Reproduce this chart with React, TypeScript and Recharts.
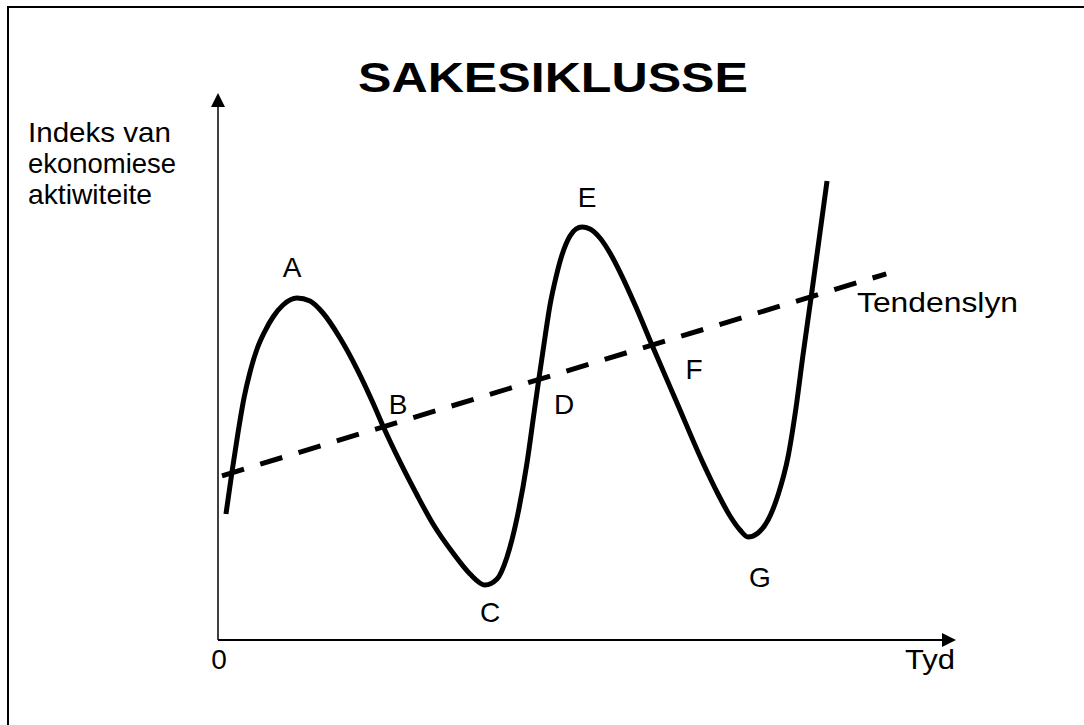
import React from 'react';
import { ComposedChart, Line, XAxis, YAxis, Customized } from 'recharts';

// Time axis (arbitrary units, 0-100)
const timePoints = [
  1.10, 1.93, 2.76, 3.59, 4.42, 5.39, 6.49, 7.60, 8.98, 10.91,
  12.71, 14.50, 16.85, 19.20, 21.41, 22.79, 25.14, 27.49, 29.70, 32.46, 34.81, 36.88,
  38.54, 39.92, 41.30, 42.68, 43.65, 44.34, 45.17, 45.86, 46.69, 47.51, 48.62, 49.45, 50.28,
  51.38, 52.76, 54.14, 55.52, 57.73, 59.94, 63.40, 66.99, 69.06, 70.72, 72.10, 73.20,
  74.59, 75.97, 77.35, 78.73, 79.83, 80.80, 81.91, 83.01, 84.12,
];
// Index of economic activity (0-100) at those times
const activityIndex = [
  23.64, 31.52, 38.84, 45.40, 50.28, 54.60, 57.97, 60.60, 62.85, 64.17,
  63.60, 61.35, 56.66, 50.84, 44.47, 40.15, 33.40, 27.20, 21.76, 16.32, 12.38, 10.32,
  11.44, 15.57, 22.89, 33.21, 42.59, 49.16, 56.85, 62.85, 68.11, 72.23, 75.80, 77.11, 77.49,
  77.11, 75.42, 72.61, 69.04, 62.48, 55.35, 44.47, 33.21, 27.39, 23.26, 20.64, 19.32,
  20.08, 22.51, 27.20, 34.33, 43.53, 53.47, 64.17, 75.05, 86.12,
];

// Trend line (start and end)
const trendTime = [0.55, 92.3];
const trendValues = [30.8, 68.7];

// Labels of the cycle phases
const phaseLabels = ['A', 'B', 'C', 'D', 'E', 'F', 'G'];

const cycleData = timePoints.map((x, i) => ({ x, y: activityIndex[i] }));
const trendData = trendTime.map((x, i) => ({ x, y: trendValues[i] }));

const FONT = '"Liberation Sans", Arial, Helvetica, sans-serif';

const Defs = () => (
  <defs>
    <marker id="arrowHead" markerUnits="userSpaceOnUse" markerWidth={14} markerHeight={14} viewBox="0 0 14 14" refX={0} refY={7} orient="auto-start-reverse">
      <path d="M0,0 L14,7 L0,14 z" fill="#000" />
    </marker>
  </defs>
);

const labelPos: Record<string, [number, number]> = {
  A: [292, 277], B: [398, 414], C: [490, 622], D: [564, 414], E: [587, 207], F: [694, 379], G: [760, 587],
};

export default function App() {
  const W = 1084;
  const H = 725;
  const lbl = { fontFamily: FONT, fontSize: 28, fill: '#000' } as const;
  return (
    <div style={{ position: 'fixed', left: 0, top: 0, width: W, height: H, background: '#fff', overflow: 'hidden' }}>
      <div style={{ position: 'absolute', left: 7, top: 6, right: -10, bottom: -10, borderLeft: '2px solid #000', borderTop: '2px solid #000' }} />
      <div style={{ position: 'absolute', left: 0, top: 0 }}>
        <ComposedChart width={W} height={H} margin={{ top: 107, right: 142, bottom: 84, left: 217 }}>
          <Customized component={Defs} />
          <XAxis type="number" dataKey="x" domain={[0, 100]} allowDataOverflow height={1} tick={false} tickLine={false}
            axisLine={{ stroke: '#000', strokeWidth: 2, markerEnd: 'url(#arrowHead)' } as any} />
          <YAxis type="number" dataKey="y" domain={[0, 100]} allowDataOverflow width={1} tick={false} tickLine={false}
            axisLine={{ stroke: '#000', strokeWidth: 1.5, markerStart: 'url(#arrowHead)' } as any} />
          <Line data={trendData} dataKey="y" type="linear" stroke="#000" strokeWidth={5} strokeDasharray="23 17" dot={false} isAnimationActive={false} />
          <Line data={cycleData} dataKey="y" type="monotone" stroke="#000" strokeWidth={5} dot={false} isAnimationActive={false} />
        </ComposedChart>
      </div>
      <svg width={W} height={H} style={{ position: 'absolute', left: 0, top: 0, pointerEvents: 'none' }}>
        <text x={553} y={92} textAnchor="middle" fontFamily={FONT} fontSize={42} fontWeight="bold" textLength={390} lengthAdjust="spacingAndGlyphs">SAKESIKLUSSE</text>
        <text x={28} y={142} {...lbl} textLength={143} lengthAdjust="spacingAndGlyphs">Indeks van</text>
        <text x={28} y={173} {...lbl} textLength={148} lengthAdjust="spacingAndGlyphs">ekonomiese</text>
        <text x={28} y={204} {...lbl} textLength={124} lengthAdjust="spacingAndGlyphs">aktiwiteite</text>
        <text x={857} y={312} {...lbl} textLength={161} lengthAdjust="spacingAndGlyphs">Tendenslyn</text>
        <text x={905} y={669} {...lbl} textLength={50} lengthAdjust="spacingAndGlyphs">Tyd</text>
        <text x={219} y={669} {...lbl} textAnchor="middle">0</text>
        {phaseLabels.map((p) => (
          <text key={p} x={labelPos[p][0]} y={labelPos[p][1]} {...lbl} textAnchor="middle">{p}</text>
        ))}
      </svg>
    </div>
  );
}
